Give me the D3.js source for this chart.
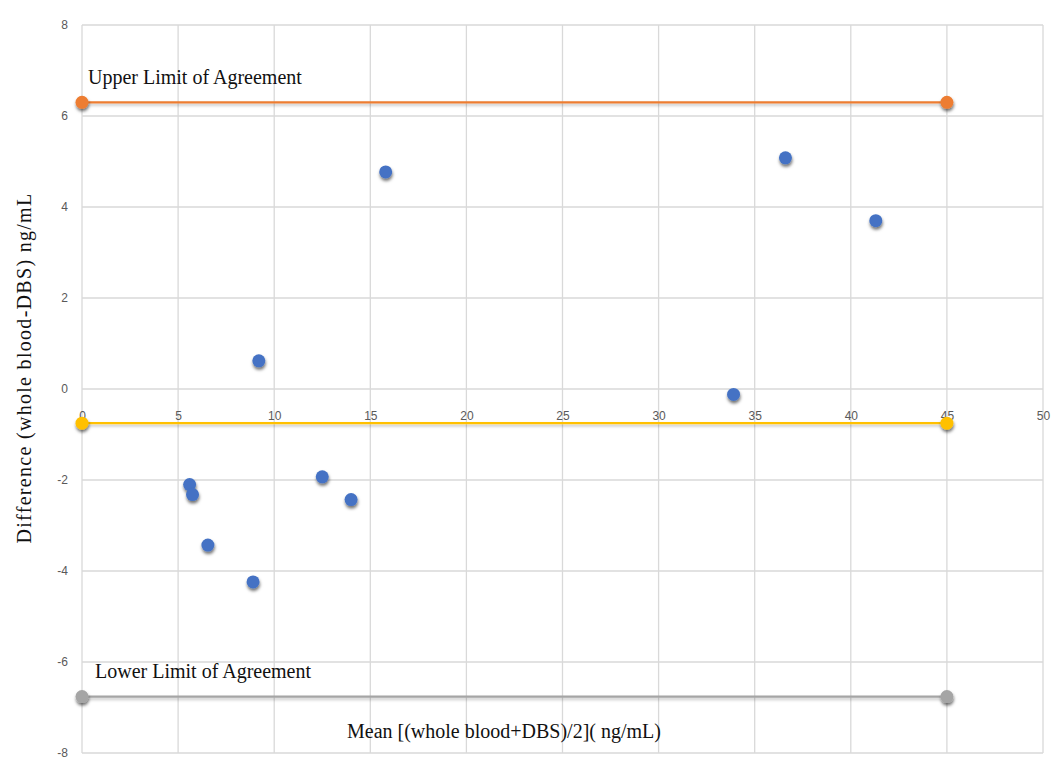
<!DOCTYPE html>
<html>
<head>
<meta charset="utf-8">
<script src="https://cdn.jsdelivr.net/npm/d3@7"></script>
<style>
  body { margin: 0; background: #fff; }
  svg { display: block; }
  .tick text { font-family: "Liberation Sans", Arial, sans-serif; font-size: 12px; fill: #595959; }
  .lbl { font-family: "Liberation Serif", "Times New Roman", serif; fill: #111; }
</style>
</head>
<body>
<svg id="chart" width="1051" height="762"></svg>
<script>
  // data
  var meanVals = [9.2, 15.8, 33.9, 36.6, 41.3, 5.6, 5.75, 6.55, 8.9, 12.5, 14.0];
  var diffVals = [0.62, 4.77, -0.12, 5.08, 3.7, -2.1, -2.32, -3.43, -4.24, -1.93, -2.43];
  var limitX = [0, 45];
  var upperLimit = 6.3;
  var meanDiff = -0.75;
  var lowerLimit = -6.76;
  var xTicks = [0, 5, 10, 15, 20, 25, 30, 35, 40, 45, 50];
  var yTicks = [-8, -6, -4, -2, 0, 2, 4, 6, 8];

  var svg = d3.select("#chart");
  var x = d3.scaleLinear().domain([0, 50]).range([82, 1043]);
  var y = d3.scaleLinear().domain([-8, 8]).range([753, 25]);

  // drop shadow like the Excel markers
  var defs = svg.append("defs");
  var f = defs.append("filter").attr("id", "shadow")
      .attr("x", "-50%").attr("y", "-50%").attr("width", "200%").attr("height", "200%");
  f.append("feDropShadow").attr("dx", 0.5).attr("dy", 2.5)
      .attr("stdDeviation", 1.5).attr("flood-color", "#000").attr("flood-opacity", 0.55);
  var fl = defs.append("filter").attr("id", "lshadow")
      .attr("filterUnits", "userSpaceOnUse")
      .attr("x", 0).attr("y", 0).attr("width", 1051).attr("height", 762);
  fl.append("feDropShadow").attr("dx", 0).attr("dy", 2)
      .attr("stdDeviation", 1.5).attr("flood-color", "#000").attr("flood-opacity", 0.25);

  // gridlines
  var grid = svg.append("g");
  grid.selectAll("line.v").data(xTicks).enter().append("line")
    .attr("x1", function(d){ return x(d); }).attr("x2", function(d){ return x(d); })
    .attr("y1", y(8)).attr("y2", y(-8))
    .attr("stroke", "#d9d9d9").attr("stroke-width", 1.3);
  grid.selectAll("line.h").data(yTicks).enter().append("line")
    .attr("y1", function(d){ return y(d); }).attr("y2", function(d){ return y(d); })
    .attr("x1", x(0)).attr("x2", x(50))
    .attr("stroke", "#d9d9d9").attr("stroke-width", 1.3);

  // axes (labels only)
  var fmt = function(d){ return String(d); };
  var yAxis = svg.append("g").attr("transform", "translate(" + x(0) + ",0)")
    .call(d3.axisLeft(y).tickValues(yTicks).tickFormat(fmt).tickSize(0).tickPadding(14));
  yAxis.select(".domain").remove();

  var xAxis = svg.append("g").attr("transform", "translate(0," + y(0) + ")")
    .call(d3.axisBottom(x).tickValues(xTicks).tickFormat(fmt).tickSize(0).tickPadding(22));
  xAxis.select(".domain").remove();

  // limit lines
  var limits = [
    { v: upperLimit, c: "#ED7D31" },
    { v: meanDiff, c: "#FFC000" },
    { v: lowerLimit, c: "#A5A5A5" }
  ];
  limits.forEach(function(l){
    var pts = limitX.map(function(px){ return [px, l.v]; });
    svg.append("path")
      .datum(pts)
      .attr("d", d3.line().x(function(d){ return x(d[0]); }).y(function(d){ return y(d[1]); }))
      .attr("stroke", l.c).attr("stroke-width", 2.2).attr("fill", "none")
      .attr("filter", "url(#lshadow)");
    svg.selectAll(null).data(pts).enter().append("circle")
      .attr("cx", function(d){ return x(d[0]); })
      .attr("cy", function(d){ return y(d[1]); })
      .attr("r", 6.5).attr("fill", l.c).attr("filter", "url(#shadow)");
  });

  // points
  svg.append("g").selectAll("circle")
    .data(meanVals.map(function(m, i){ return [m, diffVals[i]]; }))
    .enter().append("circle")
    .attr("cx", function(d){ return x(d[0]); })
    .attr("cy", function(d){ return y(d[1]); })
    .attr("r", 6.5).attr("fill", "#4472C4").attr("filter", "url(#shadow)");

  // texts
  svg.append("text").attr("class", "lbl").attr("x", 88).attr("y", 84)
    .style("font-size", "20px").text("Upper Limit of Agreement");
  svg.append("text").attr("class", "lbl").attr("x", 95).attr("y", 678)
    .style("font-size", "20px").text("Lower Limit of Agreement");
  svg.append("text").attr("class", "lbl").attr("x", 504).attr("y", 738)
    .attr("text-anchor", "middle").style("font-size", "20px")
    .text("Mean [(whole blood+DBS)/2]( ng/mL)");
  svg.append("text").attr("class", "lbl")
    .attr("transform", "translate(31,368) rotate(-90)")
    .attr("text-anchor", "middle").style("font-size", "20px").style("letter-spacing", "1.3px")
    .text("Difference (whole blood-DBS) ng/mL");
</script>
</body>
</html>
